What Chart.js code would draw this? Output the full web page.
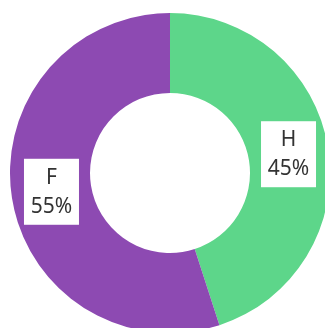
<!DOCTYPE html>
<html>
<head>
<meta charset="utf-8">
<script src="https://cdn.jsdelivr.net/npm/chart.js@4"></script>
<style>
  html, body { margin: 0; padding: 0; background: #fff; overflow: hidden; width: 325px; height: 328px; }
  #wrap { position: absolute; left: 10px; top: 13px; width: 320px; height: 320px; }
</style>
</head>
<body>
<div id="wrap"><canvas id="chart"></canvas></div>
<script>
const labels = ['H', 'F'];
const values = [45, 55];
const colors = ['#5dd68a', '#8d4ab2'];

// white boxes with label + percent, placed at the middle of each slice
const boxLabels = {
  id: 'boxLabels',
  afterDatasetsDraw(chart) {
    const ctx = chart.ctx;
    const meta = chart.getDatasetMeta(0);
    ctx.save();
    ctx.font = '21px "Noto Sans", sans-serif';
    ctx.textAlign = 'center';
    ctx.textBaseline = 'middle';
    meta.data.forEach((arc, i) => {
      const p = arc.tooltipPosition();
      const w = 55, h = 66;
      ctx.fillStyle = '#fff';
      ctx.fillRect(p.x - w / 2, p.y - h / 2, w, h);
      ctx.fillStyle = '#333';
      ctx.fillText(labels[i], p.x, p.y - 14);
      ctx.fillText(values[i] + '%', p.x, p.y + 15);
    });
    ctx.restore();
  }
};

new Chart(document.getElementById('chart'), {
  type: 'doughnut',
  data: {
    labels: labels,
    datasets: [{
      data: values,
      backgroundColor: colors,
      borderWidth: 0
    }]
  },
  options: {
    responsive: true,
    maintainAspectRatio: false,
    animation: false,
    cutout: '50%',
    plugins: {
      legend: { display: false },
      tooltip: { enabled: false }
    }
  },
  plugins: [boxLabels]
});
</script>
</body>
</html>
